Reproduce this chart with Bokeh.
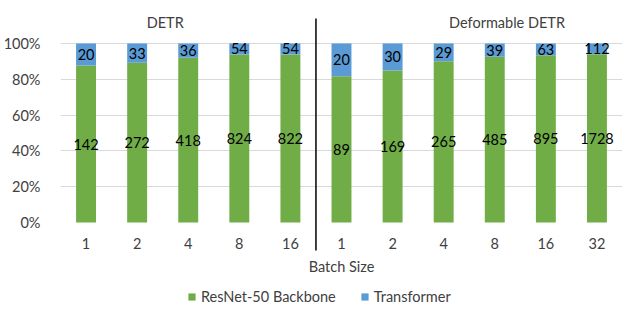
from bokeh.plotting import figure
from bokeh.models import (ColumnDataSource, FixedTicker, Label, Legend,
                          LegendItem, NumeralTickFormatter)
from bokeh.embed import file_html
from bokeh.resources import INLINE
from bokeh.core.properties import value

# ---------------- data ----------------
batch_labels = ["1", "2", "4", "8", "16", "1", "2", "4", "8", "16", "32"]
backbone = [142, 272, 418, 824, 822, 89, 169, 265, 485, 895, 1728]
transformer = [20, 33, 36, 54, 54, 20, 30, 29, 39, 63, 112]
series_names = ["ResNet-50 Backbone", "Transformer"]
group_titles = ["DETR", "Deformable DETR"]
x_axis_title = "Batch Size"
y_ticks = [0, 0.2, 0.4, 0.6, 0.8, 1.0]

GREEN = "#70AD47"
BLUE = "#5B9BD5"
FONT = "Lato"
FS = "14.5px"
TXT = "#404040"

xs = list(range(len(batch_labels)))
tot = [b + t for b, t in zip(backbone, transformer)]
bb_frac = [b / s for b, s in zip(backbone, tot)]
tr_frac = [t / s for t, s in zip(transformer, tot)]

src = ColumnDataSource(dict(
    x=xs,
    bb=bb_frac,
    tr=tr_frac,
    bb_mid=[f / 2 for f in bb_frac],
    tr_mid=[f + g / 2 for f, g in zip(bb_frac, tr_frac)],
    bb_txt=[str(v) for v in backbone],
    tr_txt=[str(v) for v in transformer],
    tick=batch_labels,
))

# frame covers the whole height; 0..1 maps to the plotting band
p = figure(width=624, height=310, output_backend="svg", toolbar_location=None,
           x_range=(-0.5, len(xs) - 0.5), y_range=(-0.4916, 1.173),
           min_border_left=50, min_border_right=2, min_border_top=12,
           min_border_bottom=0)
p.outline_line_color = None
p.background_fill_color = "white"
p.xaxis.visible = False

rs = p.vbar_stack(["bb", "tr"], x="x", width=0.39, color=[GREEN, BLUE],
                  line_color=None, source=src)

p.text(x="x", y="bb_mid", text="bb_txt", source=src, text_align="center",
       text_baseline="middle", text_font=value(FONT), text_font_size=FS,
       text_color="black")
p.text(x="x", y="tr_mid", text="tr_txt", source=src, text_align="center",
       text_baseline="middle", text_font=value(FONT), text_font_size=FS,
       text_color="black")

# category (batch size) labels under the bars
p.text(x="x", y=-0.117, text="tick", source=src, text_align="center",
       text_baseline="middle", text_font=value(FONT), text_font_size=FS,
       text_color=TXT)
p.add_layout(Label(x=(len(xs) - 1) / 2, y=-0.246, text=x_axis_title,
                   text_align="center", text_baseline="middle",
                   text_font=FONT, text_font_size=FS, text_color=TXT))

# y axis
p.yaxis.ticker = FixedTicker(ticks=y_ticks)
p.yaxis.formatter = NumeralTickFormatter(format="0%")
p.yaxis.axis_line_color = None
p.yaxis.major_tick_line_color = None
p.yaxis.minor_tick_line_color = None
p.yaxis.major_label_standoff = 14
p.yaxis.major_label_text_font = FONT
p.yaxis.major_label_text_font_size = FS
p.yaxis.major_label_text_color = TXT

p.xgrid.grid_line_color = None
p.ygrid.ticker = FixedTicker(ticks=y_ticks[1:])
p.ygrid.grid_line_color = "#D9D9D9"
p.ygrid.grid_line_width = 1

# divider between the two groups
split = 4.5
p.segment(x0=[split], y0=[1.14], x1=[split], y1=[-0.156], line_color="black",
          line_width=1.5)

# group titles
for gx, t in zip([1.55, 8.24], group_titles):
    p.add_layout(Label(x=gx, y=1.117, text=t, text_align="center",
                       text_baseline="middle", text_font=FONT,
                       text_font_size=FS, text_color=TXT))

legend = Legend(items=[LegendItem(label=series_names[0], renderers=[rs[0]]),
                       LegendItem(label=series_names[1], renderers=[rs[1]])],
                location=(127, 5), orientation="horizontal",
                glyph_width=9, glyph_height=9, label_standoff=5, spacing=24,
                padding=0, margin=0, label_height=14,
                border_line_color=None,
                background_fill_alpha=0, label_text_font=FONT,
                label_text_font_size=FS, label_text_color=TXT)
p.add_layout(legend, "center")

open("out.html", "w").write(file_html(p, INLINE))
